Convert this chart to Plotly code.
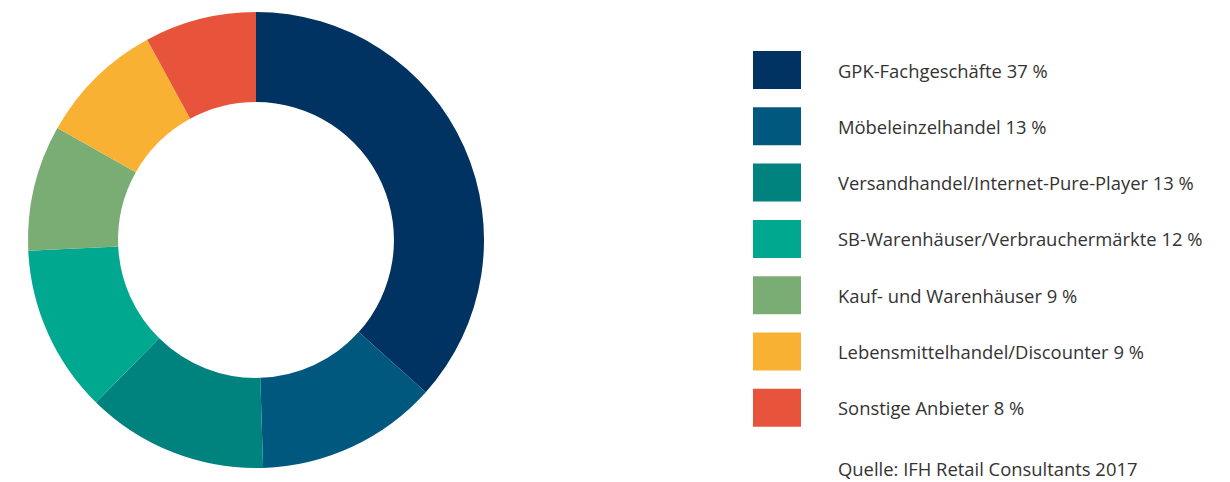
import plotly.graph_objects as go

categories = [
    "GPK-Fachgeschäfte",
    "Möbeleinzelhandel",
    "Versandhandel/Internet-Pure-Player",
    "SB-Warenhäuser/Verbrauchermärkte",
    "Kauf- und Warenhäuser",
    "Lebensmittelhandel/Discounter",
    "Sonstige Anbieter",
]
values = [37, 13, 13, 12, 9, 9, 8]
colors = ["#003361", "#00587F", "#00827F", "#00A88F", "#7AAD73", "#F8B133", "#E8543B"]
source_text = "Quelle: IFH Retail Consultants 2017"

W, H = 1230, 482
FONT = "Open Sans"
TXT = "#333333"
FS = 18.4

fig = go.Figure()
fig.add_trace(go.Pie(
    labels=categories,
    values=values,
    marker=dict(colors=colors, line=dict(width=0)),
    hole=0.605,
    sort=False,
    direction="clockwise",
    rotation=0,
    textinfo="none",
    hoverinfo="label+percent",
    showlegend=False,
    domain=dict(x=[28 / W, 484 / W], y=[14 / H, 470 / H]),
))

# custom legend
top0, step, sw, sh = 51, 56.3, 48, 38
x0 = 753
tx = 836
shapes = []
annotations = []
for i, (cat, val, col) in enumerate(zip(categories, values, colors)):
    y_top = top0 + i * step
    shapes.append(dict(
        type="rect", xref="paper", yref="paper",
        x0=x0 / W, x1=(x0 + sw) / W,
        y0=1 - (y_top + sh) / H, y1=1 - y_top / H,
        fillcolor=col, line=dict(width=0),
    ))
    annotations.append(dict(
        xref="paper", yref="paper", x=tx / W, y=1 - (y_top + sh / 2) / H,
        xanchor="left", yanchor="middle", showarrow=False,
        text=f"{cat} {val} %", font=dict(family=FONT, size=FS, color=TXT),
    ))
annotations.append(dict(
    xref="paper", yref="paper", x=tx / W, y=1 - 468 / H,
    xanchor="left", yanchor="middle", showarrow=False,
    text=source_text, font=dict(family=FONT, size=FS, color=TXT),
))

fig.update_layout(
    width=W, height=H,
    margin=dict(l=0, r=0, t=0, b=0),
    paper_bgcolor="white", plot_bgcolor="white",
    shapes=shapes, annotations=annotations,
)
fig.write_html(
    "out.html",
    config={"displayModeBar": False},
    post_script="document.body.style.margin='0';document.body.style.overflow='hidden';",
)
